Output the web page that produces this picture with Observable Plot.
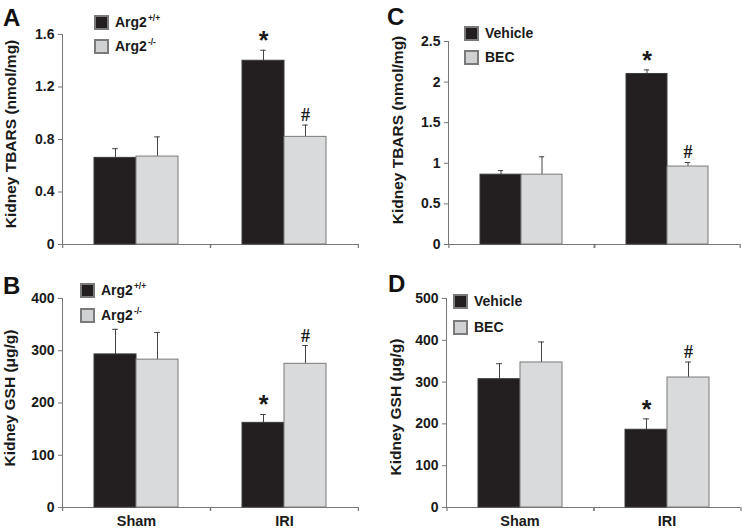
<!DOCTYPE html>
<html><head><meta charset="utf-8">
<script src="https://cdn.jsdelivr.net/npm/d3@7"></script>
<script src="https://cdn.jsdelivr.net/npm/@observablehq/plot@0.6"></script>
<style>
body{margin:0;background:#fff;font-family:Arial,"Liberation Sans",Helvetica,sans-serif;}
#root{position:relative;width:742px;height:531px;overflow:hidden;background:#fff}
.panel{position:absolute}
.panel svg text{fill:#1a1a1a}
.letter{position:absolute;font-weight:bold;font-size:24px;line-height:24px;color:#111}
.ylab{position:absolute;font-weight:bold;font-size:15.5px;white-space:nowrap;transform:translate(-50%,-50%) rotate(-90deg);line-height:1;color:#1a1a1a}
.row{position:absolute;display:flex;align-items:center;white-space:nowrap;font-weight:bold;font-size:14px;line-height:15px;color:#1a1a1a}
.sw{box-sizing:border-box;width:15px;height:15px;border:2px solid #7a7a7a;margin-right:6px}
.row sup{font-size:8.5px;line-height:0;vertical-align:6px;margin-left:1px}
</style>
</head><body><div id="root"></div>
<script>
// ---- data ----
const groups = ["Sham", "IRI"];
const seriesArg = ["Arg2+/+", "Arg2-/-"];
const seriesBEC = ["Vehicle", "BEC"];

// Panel A: Kidney TBARS (nmol/mg), Arg2 genotype
const tbarsArgWT = [0.66, 1.40];
const tbarsArgWTsem = [0.07, 0.08];
const tbarsArgKO = [0.67, 0.82];
const tbarsArgKOsem = [0.15, 0.09];

// Panel B: Kidney GSH (µg/g), Arg2 genotype
const gshArgWT = [293, 162];
const gshArgWTsem = [48, 16];
const gshArgKO = [283, 275];
const gshArgKOsem = [52, 35];

// Panel C: Kidney TBARS (nmol/mg), Vehicle vs BEC
const tbarsVeh = [0.86, 2.10];
const tbarsVehSem = [0.05, 0.05];
const tbarsBEC = [0.86, 0.96];
const tbarsBECsem = [0.22, 0.05];

// Panel D: Kidney GSH (µg/g), Vehicle vs BEC
const gshVeh = [307, 186];
const gshVehSem = [37, 26];
const gshBEC = [347, 311];
const gshBECsem = [49, 37];

// significance marks [series][group]
const sigMarks = [["", "*"], ["", "#"]];

const ticksA = [0, 0.4, 0.8, 1.2, 1.6];
const ticksB = [0, 100, 200, 300, 400];
const ticksC = [0, 0.5, 1, 1.5, 2, 2.5];
const ticksD = [0, 100, 200, 300, 400, 500];

const panels = [
  {letter: "A", left: 0, top: 0, width: 371, height: 265, ml: 62, mr: 13, mt: 34, mb: 21,
   series: seriesArg, values: [tbarsArgWT, tbarsArgKO], sems: [tbarsArgWTsem, tbarsArgKOsem],
   ticks: ticksA, domain: [0, 1.6], showX: false, ylabel: "Kidney TBARS (nmol/mg)",
   letterPos: [3, 6], ylabPos: [11, 134], legPos: [94, 15], legGap: 24, sup: ["+/+", "-/-"]},
  {letter: "C", left: 371, top: 0, width: 371, height: 265, ml: 77, mr: 2, mt: 41, mb: 21,
   series: seriesBEC, values: [tbarsVeh, tbarsBEC], sems: [tbarsVehSem, tbarsBECsem],
   ticks: ticksC, domain: [0, 2.5], showX: false, ylabel: "Kidney TBARS (nmol/mg)",
   letterPos: [387, 5], ylabPos: [398, 130], legPos: [464, 26], legGap: 24, sup: null},
  {letter: "B", left: 0, top: 265, width: 371, height: 266, ml: 62, mr: 13, mt: 33, mb: 24,
   series: seriesArg, values: [gshArgWT, gshArgKO], sems: [gshArgWTsem, gshArgKOsem],
   ticks: ticksB, domain: [0, 400], showX: true, ylabel: "Kidney GSH (μg/g)",
   letterPos: [3, 274], ylabPos: [10, 398], legPos: [80, 283], legGap: 25, sup: ["+/+", "-/-"]},
  {letter: "D", left: 371, top: 265, width: 371, height: 266, ml: 75, mr: 2, mt: 33, mb: 24,
   series: seriesBEC, values: [gshVeh, gshBEC], sems: [gshVehSem, gshBECsem],
   ticks: ticksD, domain: [0, 500], showX: true, ylabel: "Kidney GSH (μg/g)",
   letterPos: [388, 272], ylabPos: [396, 407], legPos: [453, 294], legGap: 26, sup: null}
];

const fills = ["#231f20", "#d9dadb"];
const strokes = ["#3a3a3a", "#7a7a7a"];
const root = document.getElementById("root");
const fmt = d3.format("~g");

function makePanel(cfg) {
  const rows = [];
  groups.forEach((g, i) => cfg.series.forEach((s, j) => rows.push({
    group: g, series: s, si: j, value: cfg.values[j][i], sem: cfg.sems[j][i], sig: sigMarks[j][i]
  })));
  const po = 0.75;
  const facetW = (cfg.width - cfg.ml - cfg.mr) / groups.length;
  const step = facetW / (cfg.series.length + 2 * po);
  const edge = po * step + step / 2;
  const capInset = (step - 6) / 2;
  const marks = [
    Plot.ruleY([0], {stroke: "#777", strokeWidth: 1.2}),
    Plot.ruleX([cfg.series[0]], {x: d => d, y1: 0, y2: 0, dx: -edge, insetBottom: -4, stroke: "#777", strokeWidth: 1.2}),
    Plot.ruleX([cfg.series[cfg.series.length - 1]], {x: d => d, y1: 0, y2: 0, dx: edge, insetBottom: -4, stroke: "#777", strokeWidth: 1.2}),
    Plot.ruleX(rows, {x: "series", y1: "value", y2: d => d.value + d.sem, stroke: "#444", strokeWidth: 1}),
    Plot.tickY(rows, {x: "series", y: d => d.value + d.sem, stroke: "#444", strokeWidth: 1, insetLeft: capInset, insetRight: capInset}),
    ...cfg.series.map((s, j) => Plot.barY(rows, {filter: d => d.si === j, x: "series", y: "value", fill: fills[j], stroke: strokes[j], strokeWidth: 1})),
    Plot.text(rows, {filter: d => d.sig === "*", x: "series", y: d => d.value + d.sem, text: "sig", lineAnchor: "bottom", dy: -1, fontSize: 25, fontWeight: "bold", fontFamily: "Arial, 'Liberation Sans', sans-serif"}),
    Plot.text(rows, {filter: d => d.sig === "#", x: "series", y: d => d.value + d.sem, text: "sig", lineAnchor: "bottom", dy: -4, fontSize: 18, fontFamily: "'Liberation Serif', 'Times New Roman', serif"})
  ];
  if (cfg.showX) {
    marks.push(Plot.text(rows, {filter: d => d.si === 0, text: "group", frameAnchor: "bottom", lineAnchor: "top", dy: 8, fontSize: 14.5, fontWeight: "bold"}));
  }
  const plot = Plot.plot({
    width: cfg.width, height: cfg.height,
    marginLeft: cfg.ml, marginRight: cfg.mr, marginTop: cfg.mt, marginBottom: cfg.mb,
    style: {fontFamily: "Arial, 'Liberation Sans', sans-serif", fontSize: "14px", fontWeight: "bold", color: "#777", background: "transparent", overflow: "visible"},
    facet: {data: rows, x: "group"},
    fx: {domain: groups, padding: 0, label: null, axis: null},
    x: {domain: cfg.series, paddingInner: 0, paddingOuter: po, axis: null},
    y: {domain: cfg.domain, ticks: cfg.ticks, tickFormat: fmt, tickSize: 4, tickPadding: 4, label: null, line: true},
    marks
  });
  const div = document.createElement("div");
  div.className = "panel";
  div.style.left = cfg.left + "px";
  div.style.top = cfg.top + "px";
  div.appendChild(plot);
  root.appendChild(div);

  const L = document.createElement("div");
  L.className = "letter";
  L.textContent = cfg.letter;
  L.style.left = cfg.letterPos[0] + "px";
  L.style.top = cfg.letterPos[1] + "px";
  root.appendChild(L);

  const Y = document.createElement("div");
  Y.className = "ylab";
  Y.textContent = cfg.ylabel;
  Y.style.left = cfg.ylabPos[0] + "px";
  Y.style.top = cfg.ylabPos[1] + "px";
  root.appendChild(Y);

  cfg.series.forEach((s, j) => {
    const r = document.createElement("div");
    r.className = "row";
    r.style.left = cfg.legPos[0] + "px";
    r.style.top = (cfg.legPos[1] + j * cfg.legGap) + "px";
    const sw = document.createElement("span");
    sw.className = "sw";
    sw.style.background = j === 0 ? fills[0] : "#d0d1d2";
    r.appendChild(sw);
    const t = document.createElement("span");
    if (cfg.sup) {
      t.textContent = s.replace(cfg.sup[j], "");
      const sp = document.createElement("sup");
      sp.textContent = cfg.sup[j];
      t.appendChild(sp);
    } else {
      t.textContent = s;
    }
    r.appendChild(t);
    root.appendChild(r);
  });
}

panels.forEach(makePanel);
</script>
</body></html>
